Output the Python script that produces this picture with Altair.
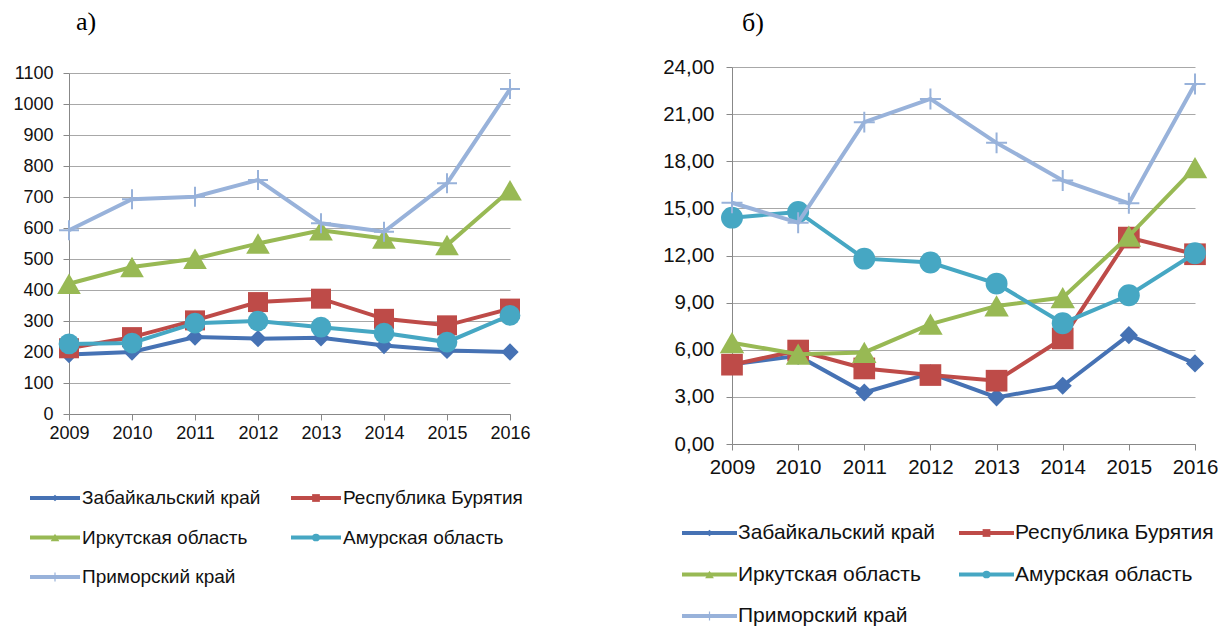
import altair as alt
import pandas as pd

years = [2009, 2010, 2011, 2012, 2013, 2014, 2015, 2016]
series = ["Забайкальский край", "Республика Бурятия", "Иркутская область",
          "Амурская область", "Приморский край"]
colors = ["#4672B4", "#BE4B48", "#98B954", "#46A7C3", "#98B2DA"]
shapes = ["diamond", "square", "triangle-up", "circle", "M-1,0H1M0,-1V1"]

# panel a)
a_zab = [192, 200, 248, 243, 246, 221, 205, 200]
a_bur = [212, 248, 302, 361, 372, 307, 286, 340]
a_irk = [420, 474, 501, 550, 593, 566, 545, 722]
a_amu = [226, 229, 293, 300, 280, 261, 232, 318]
a_pri = [593, 693, 701, 755, 615, 588, 744, 1048]

# panel б)
b_zab = [5.08, 5.61, 3.28, 4.50, 2.97, 3.71, 6.93, 5.13]
b_bur = [5.05, 5.95, 4.81, 4.39, 4.03, 6.72, 13.14, 12.08]
b_irk = [6.45, 5.72, 5.83, 7.63, 8.79, 9.32, 13.24, 17.60]
b_amu = [14.41, 14.77, 11.80, 11.55, 10.21, 7.69, 9.47, 12.14]
b_pri = [15.36, 14.09, 20.49, 21.97, 19.17, 16.78, 15.32, 22.92]

a_ticks = list(range(0, 1101, 100))
b_ticks = [0, 3, 6, 9, 12, 15, 18, 21, 24]

FONT = "Liberation Sans"
NOFRAME = alt.ViewBackground(stroke="transparent", strokeWidth=0)


def make_df(vals):
    rows = []
    for s, v in zip(series, vals):
        for yr, val in zip(years, v):
            rows.append({"series": s, "year": yr, "value": val})
    return pd.DataFrame(rows)


def panel(vals, ymax, ticks, yrange, width, height, fs, label_expr,
          title_text, title_dx, title_offset, msize, xlabpad, ylabpad):
    df = make_df(vals)
    x = alt.X("year:Q", scale=alt.Scale(domain=[2009, 2016], nice=False, zero=False),
              axis=alt.Axis(values=years, format="d", grid=False, title=None,
                            labelFontSize=fs, labelFont=FONT, labelColor="#111",
                            domainColor="#888", tickColor="#888", tickSize=6,
                            labelPadding=xlabpad, labelFlush=False))
    y = alt.Y("value:Q", scale=alt.Scale(domain=[0, ymax], nice=False, range=yrange),
              axis=alt.Axis(values=ticks, grid=True, title=None, labelExpr=label_expr,
                            labelFontSize=fs, labelFont=FONT, labelColor="#111",
                            domainColor="#888", tickColor="#888", gridColor="#A8A8A8",
                            tickSize=6, labelPadding=ylabpad))
    layers = []
    for i, s in enumerate(series):
        base = alt.Chart(df).transform_filter(alt.datum.series == s)
        layers.append(base.mark_line(color=colors[i], strokeWidth=4).encode(x=x, y=y))
        if i == 4:
            layers.append(base.mark_point(shape=shapes[i], filled=False, color=colors[i],
                                          strokeWidth=2, size=msize[i], opacity=1)
                          .encode(x=x, y=y))
        else:
            layers.append(base.mark_point(shape=shapes[i], filled=True, color=colors[i],
                                          size=msize[i], opacity=1)
                          .encode(x=x, y=y))
    return alt.layer(*layers).properties(
        width=width, height=height, view=NOFRAME,
        title=alt.TitleParams(title_text, anchor="start", frame="group", dx=title_dx,
                              offset=title_offset, font="Liberation Serif", fontSize=26,
                              fontWeight="normal", color="#000", baseline="alphabetic"))


def legend(width, height, xr, yr, fs, linelen, textdx, lsize):
    ldf = pd.DataFrame({"series": series,
                        "col": [i % 2 for i in range(len(series))],
                        "row": [i // 2 for i in range(len(series))]})
    x = alt.X("col:Q", scale=alt.Scale(domain=[0, 1], range=xr), axis=None)
    y = alt.Y("row:Q", scale=alt.Scale(domain=[0, 2], range=yr), axis=None)
    layers = []
    for i, s in enumerate(series):
        base = alt.Chart(ldf).transform_filter(alt.datum.series == s)
        layers.append(base.mark_rule(color=colors[i], strokeWidth=4, x2Offset=linelen)
                      .encode(x=x, x2="col:Q", y=y))
        if i == 4:
            layers.append(base.mark_point(shape=shapes[i], filled=False, color=colors[i],
                                          strokeWidth=1.2, size=lsize[i], opacity=1,
                                          xOffset=linelen / 2).encode(x=x, y=y))
        else:
            layers.append(base.mark_point(shape=shapes[i], filled=True, color=colors[i],
                                          size=lsize[i], opacity=1,
                                          xOffset=linelen / 2).encode(x=x, y=y))
    layers.append(alt.Chart(ldf).mark_text(align="left", baseline="middle", dx=textdx,
                                           font=FONT, fontSize=fs, color="#111")
                  .encode(x=x, y=y, text="series:N"))
    return alt.layer(*layers).properties(width=width, height=height, view=NOFRAME)


int_expr = "format(datum.value, 'd')"
dec_expr = "replace(format(datum.value, '.2f'), '.', ',')"

pa = panel([a_zab, a_bur, a_irk, a_amu, a_pri], 1100, a_ticks, [347, 6], 441, 347, 18,
           int_expr, "а)", 7, 8, [300, 400, 560, 430, 400], 4, 10)
pb = panel([b_zab, b_bur, b_irk, b_amu, b_pri], 24, b_ticks, [377, 0], 463, 377, 20.5,
           dec_expr, "б)", 10, 0, [330, 470, 600, 480, 440], 7, 12)

la = legend(441, 150, [-39, 222], [44, 123], 19, 50, 52, [45, 60, 75, 60, 80])
lb = legend(463, 150, [-50, 227], [79, 162], 21, 55, 56, [45, 60, 75, 60, 80])

chart = alt.concat(pa, pb, la, lb, columns=2, spacing={"row": 10, "column": 222},
                   bounds="flush").properties(
    padding={"left": 4, "top": 1, "right": 0, "bottom": 0}
).configure(background="white").configure_view(strokeWidth=0, stroke="transparent")

chart.save("out.html", embed_options={"renderer": "svg", "actions": False})
